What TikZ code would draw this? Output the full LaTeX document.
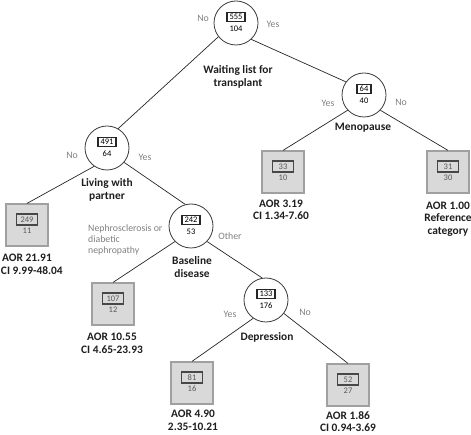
\documentclass[tikz,border=0pt]{standalone}
\usepackage{fontspec}
\setmainfont{Carlito}
\definecolor{circborder}{HTML}{3A3A3A}
\definecolor{leaffill}{HTML}{D9D9D9}
\definecolor{leafborder}{HTML}{A0A0A0}
\definecolor{labgray}{HTML}{808080}
\definecolor{numgray}{HTML}{595959}
\definecolor{titlecol}{HTML}{1E1E1E}
\newcommand\myNumFont{\fontsize{8.5}{9}\selectfont}
\newcommand\myLabFont{\fontsize{9.8}{11}\selectfont}
\newcommand\myTitleFont{\bfseries\fontsize{11.4}{12.6}\selectfont}
\tikzset{
  circ/.style={circle, draw=circborder, line width=0.8pt, fill=white, minimum size=44pt, inner sep=0pt},
  leaf/.style={rectangle, draw=leafborder, fill=leaffill, line width=1.2pt, minimum size=42pt, inner sep=0pt},
  cbox/.style={draw=black!85, line width=1.6pt, font=\myNumFont, inner xsep=2.6pt, inner ysep=1.6pt, text=black},
  lbox/.style={draw=black!72, line width=1.7pt, font=\myNumFont, minimum width=21pt, minimum height=11.5pt, inner sep=0.5pt, text=numgray},
  cnum/.style={font=\myNumFont, inner sep=0pt, text=black},
  lnum/.style={font=\myNumFont, inner sep=0pt, text=numgray},
  lab/.style={font=\myLabFont, text=labgray, inner sep=0pt},
  ttl/.style={font=\myTitleFont, align=center, inner sep=0pt, text=titlecol},
  conn/.style={draw=black!85, line width=0.7pt}
}
\begin{document}
\begin{tikzpicture}[x=1pt,y=-1pt]
\useasboundingbox (0,0) rectangle (471,435);

% decision circles
\node[circ] (root) at (236,23) {};
\node[cbox] (rootb) at (236,17) {555};
\node[cnum] (rootn) at (236,28.5) {104};

\node[circ] (living) at (107,148) {};
\node[cbox] (livingb) at (107,142) {491};
\node[cnum] (livingn) at (107,153.5) {64};

\node[circ] (meno) at (364,95) {};
\node[cbox] (menob) at (364,89) {64};
\node[cnum] (menon) at (364,100.5) {40};

\node[circ] (base) at (191,226) {};
\node[cbox] (baseb) at (191,220) {242};
\node[cnum] (basen) at (191,231.5) {53};

\node[circ] (dep) at (266,300) {};
\node[cbox] (depb) at (266,294) {133};
\node[cnum] (depn) at (266,305.5) {176};

% leaves
\node[leaf] (l249) at (27,225) {};
\node[lbox] (l249b) at (27,219.5) {249};
\node[lnum] (l249n) at (27,230.5) {11};

\node[leaf] (l107) at (113,304) {};
\node[lbox] (l107b) at (113,298.5) {107};
\node[lnum] (l107n) at (113,309.5) {12};

\node[leaf] (l33) at (283,172) {};
\node[lbox] (l33b) at (283,166.5) {33};
\node[lnum] (l33n) at (283,177.5) {10};

\node[leaf] (l31) at (448,172) {};
\node[lbox] (l31b) at (448,166.5) {31};
\node[lnum] (l31n) at (448,177.5) {30};

\node[leaf] (l81) at (192,383) {};
\node[lbox] (l81b) at (192,377.5) {81};
\node[lnum] (l81n) at (192,388.5) {16};

\node[leaf] (l52) at (348,385) {};
\node[lbox] (l52b) at (348,379.5) {52};
\node[lnum] (l52n) at (348,390.5) {27};

% connectors
\draw[conn] (root.218) -- (living.60);
\draw[conn] (root.-47) -- (meno.144);
\draw[conn] (meno.223) -- (l33.north);
\draw[conn] (meno.-43) -- (l31.north);
\draw[conn] (living.235) -- (l249.north);
\draw[conn] (living.-40) -- (base.105);
\draw[conn] (base.224) -- (l107.north);
\draw[conn] (base.-44) -- (dep.100);
\draw[conn] (dep.235) -- (l81.north);
\draw[conn] (dep.-37) -- (l52.north);

% branch labels
\node[lab] (rno) at (203,18) {No};
\node[lab] (ryes) at (273,24) {Yes};
\node[lab] (lno) at (72,155) {No};
\node[lab] (lyes) at (145,157) {Yes};
\node[lab] (myes) at (328,103) {Yes};
\node[lab] (mno) at (401,102) {No};
\node[lab] (bother) at (230,236) {Other};
\node[lab, align=left, anchor=west] (bneph) at (88,240) {Nephrosclerosis or\\diabetic\\nephropathy};
\node[lab] (dyes) at (230,314) {Yes};
\node[lab] (dno) at (305,312) {No};

% titles
\node[ttl] (troot) at (238,77) {Waiting list for\\transplant};
\node[ttl] (tliving) at (107,190) {Living with\\partner};
\node[ttl] (tmeno) at (363,128) {Menopause};
\node[ttl] (tbase) at (192,267) {Baseline\\disease};
\node[ttl] (tdep) at (267,337) {Depression};

% leaf captions
\node[ttl] (c249a) at (27,258) {AOR 21.91};
\node[ttl, anchor=west] (c249b) at (0.8,271) {CI 9.99-48.04};
\node[ttl] (c107) at (112,343.5) {AOR 10.55\\CI 4.65-23.93};
\node[ttl] (c33) at (281,210) {AOR 3.19\\CI 1.34-7.60};
\node[ttl] (c31) at (448,219) {AOR 1.00\\Reference\\category};
\node[ttl] (c81) at (193,420.5) {AOR 4.90\\2.35-10.21};
\node[ttl] (c52) at (348,421.5) {AOR 1.86\\CI 0.94-3.69};
\end{tikzpicture}
\end{document}
